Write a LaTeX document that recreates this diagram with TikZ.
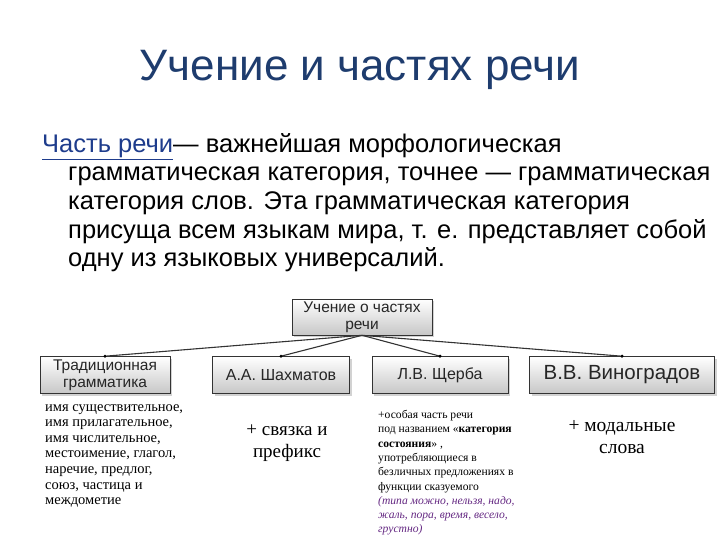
\documentclass[tikz,border=0pt]{standalone}
\usepackage{fontspec}
\setmainfont{Liberation Sans}
\newfontfamily\serifb{Liberation Serif}
\usetikzlibrary{shadows}
\definecolor{ttl}{RGB}{30,60,110}
\definecolor{lnk}{RGB}{30,60,140}
\definecolor{vio}{RGB}{100,40,130}
\tikzset{
 hbox/.style={draw=black!80, line width=0.6pt, top color=white, bottom color=black!22, drop shadow={shadow xshift=2pt,shadow yshift=-2pt,fill=black!35}, inner sep=1pt, align=center, font=\fontsize{15.5}{17}\selectfont, text=black!85},
 conn/.style={line width=1.1pt, black!80},
 dotc/.style={circle, fill=black, inner sep=1.2pt},
}
\begin{document}
\begin{tikzpicture}[x=1pt,y=-1pt]
\useasboundingbox (0,0) rectangle (720,540);
\node[font=\fontsize{44}{50}\selectfont, text=ttl] (title) at (360,70) {Учение и частях речи};
\node[anchor=north west, font=\fontsize{25.5}{28.7}\selectfont, align=left, inner sep=0pt] (body) at (42,133) {\textcolor{lnk}{\underline{Часть речи}}— важнейшая морфологическая\\
\hspace*{26pt}грамматическая категория, точнее — грамматическая\\
\hspace*{26pt}категория слов. Эта грамматическая категория\\
\hspace*{26pt}присуща всем языкам мира, т. е. представляет собой\\
\hspace*{26pt}одну из языковых универсалий.};
\node[hbox, minimum width=140pt, minimum height=36pt] (top) at (362,317) {Учение о частях\\речи};
\node[hbox, minimum width=130pt, minimum height=37pt] (b1) at (105,375) {Традиционная\\грамматика};
\node[hbox, minimum width=137pt, minimum height=37pt, font=\fontsize{16}{17}\selectfont] (b2) at (281,375) {А.А. Шахматов};
\node[hbox, minimum width=136pt, minimum height=37pt, font=\fontsize{16}{17}\selectfont] (b3) at (440,375) {Л.В. Щерба};
\node[hbox, minimum width=185pt, minimum height=37pt, font=\fontsize{20.5}{22}\selectfont] (b4) at (622,375) {В.В. Виноградов};
\foreach \b in {b1,b2,b3,b4}{
 \draw[conn] (top.south) -- (\b.north);
 \node[dotc] at (\b.north) {};
}
\node[anchor=north west, align=left, inner sep=0pt, font=\serifb\fontsize{14.5}{15.6}\selectfont] (t1) at (45,404) {имя существительное,\\имя прилагательное,\\имя числительное,\\местоимение, глагол,\\наречие, предлог,\\союз, частица и\\междометие};
\node[align=center, inner sep=0pt, font=\serifb\fontsize{19}{22}\selectfont] (t2) at (287,443) {+ связка и\\префикс};
\node[align=center, inner sep=0pt, font=\serifb\fontsize{19.5}{22}\selectfont] (t4) at (622,437) {+ модальные\\слова};
\node[anchor=north west, align=left, inner sep=0pt, font=\serifb\fontsize{11.6}{14.3}\selectfont] (t3) at (378,410) {+особая часть речи\\под названием «\textbf{категория}\\\textbf{состояния}» ,\\употребляющиеся в\\безличных предложениях в\\функции сказуемого\\\textcolor{vio}{\itshape (типа можно, нельзя, надо,}\\\textcolor{vio}{\itshape жаль, пора, время, весело,}\\\textcolor{vio}{\itshape грустно)}};
\end{tikzpicture}
\end{document}
